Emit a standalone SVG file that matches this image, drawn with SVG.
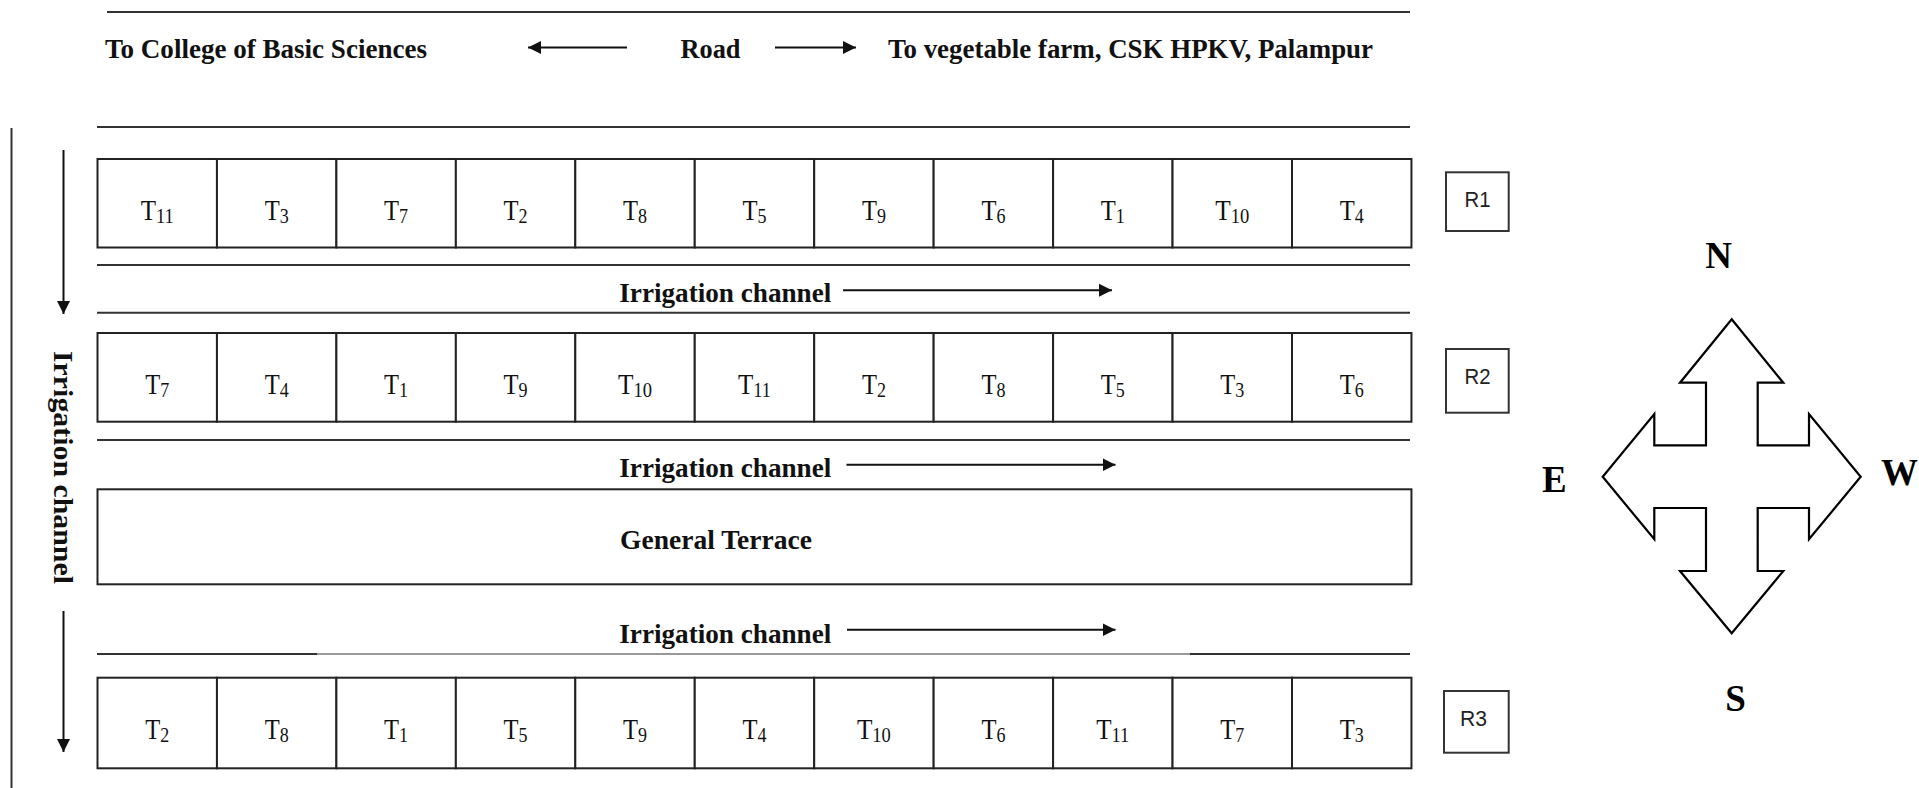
<svg xmlns="http://www.w3.org/2000/svg" width="1919" height="788" viewBox="0 0 1919 788">
<defs>
<marker id="ah" markerUnits="userSpaceOnUse" markerWidth="14" markerHeight="14" refX="13" refY="7" orient="auto"><path d="M0,0.5 L13,7 L0,13.5 Z" fill="#111"/></marker>
<style>
.ln{stroke:#333;stroke-width:2;fill:none}
.lg{stroke:#999;stroke-width:2;fill:none}
.cell{fill:#fff;stroke:#222;stroke-width:2}
.box{fill:#fff;stroke:#333;stroke-width:2}
.lbl{font-family:"Liberation Serif","Times New Roman",serif;font-weight:bold;font-size:28px;fill:#111}
.t{font-family:"Liberation Serif","Times New Roman",serif;font-size:30px;fill:#111}
.sub{font-size:22px}
.rl{font-family:"Liberation Sans",Arial,sans-serif;font-size:22px;fill:#222}
.cmp{font-family:"Liberation Serif","Times New Roman",serif;font-weight:bold;font-size:37px;fill:#000}
.arr{stroke:#111;stroke-width:2;fill:none;marker-end:url(#ah)}
.compass{fill:#fff;stroke:#000;stroke-width:2.2;stroke-linejoin:miter}
</style>
</defs>
<rect width="1919" height="788" fill="#fff"/>

<g id="lines">
<line class="ln" x1="107" y1="12" x2="1410" y2="12"/>
<line class="ln" x1="97" y1="127" x2="1410" y2="127"/>
<line class="ln" x1="97" y1="265" x2="1410" y2="265"/>
<line class="ln" x1="97" y1="312.7" x2="1410" y2="312.7"/>
<line class="ln" x1="97" y1="440" x2="1410" y2="440"/>
<line class="lg" x1="317" y1="654" x2="1190" y2="654"/>
<line class="ln" x1="97" y1="654" x2="317" y2="654"/>
<line class="ln" x1="1190" y1="654" x2="1410" y2="654"/>
<line class="ln" x1="11.5" y1="128" x2="11.5" y2="788"/>
</g>

<g id="texts">
<text class="lbl" x="105" y="58" textLength="322" lengthAdjust="spacingAndGlyphs">To College of Basic Sciences</text>
<text class="lbl" x="680.5" y="57.5" textLength="60" lengthAdjust="spacingAndGlyphs">Road</text>
<text class="lbl" x="888" y="57.5" textLength="485" lengthAdjust="spacingAndGlyphs">To vegetable farm, CSK HPKV, Palampur</text>
<text class="lbl" x="619.3" y="301.7" textLength="212" lengthAdjust="spacingAndGlyphs">Irrigation channel</text>
<text class="lbl" x="619.3" y="476.7" textLength="212" lengthAdjust="spacingAndGlyphs">Irrigation channel</text>
<text class="lbl" x="619.3" y="643" textLength="212" lengthAdjust="spacingAndGlyphs">Irrigation channel</text>
<text class="lbl" transform="translate(53.5,467.5) rotate(90)" text-anchor="middle" textLength="233" lengthAdjust="spacingAndGlyphs">Irrigation channel</text>
</g>

<g id="connectors">
<line class="arr" x1="627" y1="47.5" x2="528" y2="47.5"/>
<line class="arr" x1="775" y1="47.5" x2="856" y2="47.5"/>
<line class="arr" x1="843" y1="290.3" x2="1112" y2="290.3"/>
<line class="arr" x1="846.5" y1="464.7" x2="1115.5" y2="464.7"/>
<line class="arr" x1="847" y1="629.7" x2="1115.5" y2="629.7"/>
<line class="arr" x1="63.5" y1="150" x2="63.5" y2="314"/>
<line class="arr" x1="63.5" y1="611" x2="63.5" y2="752"/>
</g>

<g id="row1">
<g id="r1c1"><rect class="cell" x="97.5" y="159" width="119.45" height="88.5"/><text class="t" x="157.2" y="220" text-anchor="middle" textLength="33" lengthAdjust="spacingAndGlyphs">T<tspan class="sub" dy="3">11</tspan></text></g>
<g id="r1c2"><rect class="cell" x="216.95" y="159" width="119.45" height="88.5"/><text class="t" x="276.7" y="220" text-anchor="middle" textLength="24" lengthAdjust="spacingAndGlyphs">T<tspan class="sub" dy="3">3</tspan></text></g>
<g id="r1c3"><rect class="cell" x="336.4" y="159" width="119.45" height="88.5"/><text class="t" x="396.1" y="220" text-anchor="middle" textLength="24" lengthAdjust="spacingAndGlyphs">T<tspan class="sub" dy="3">7</tspan></text></g>
<g id="r1c4"><rect class="cell" x="455.85" y="159" width="119.45" height="88.5"/><text class="t" x="515.6" y="220" text-anchor="middle" textLength="24" lengthAdjust="spacingAndGlyphs">T<tspan class="sub" dy="3">2</tspan></text></g>
<g id="r1c5"><rect class="cell" x="575.3" y="159" width="119.45" height="88.5"/><text class="t" x="635" y="220" text-anchor="middle" textLength="24" lengthAdjust="spacingAndGlyphs">T<tspan class="sub" dy="3">8</tspan></text></g>
<g id="r1c6"><rect class="cell" x="694.75" y="159" width="119.45" height="88.5"/><text class="t" x="754.5" y="220" text-anchor="middle" textLength="24" lengthAdjust="spacingAndGlyphs">T<tspan class="sub" dy="3">5</tspan></text></g>
<g id="r1c7"><rect class="cell" x="814.2" y="159" width="119.45" height="88.5"/><text class="t" x="873.9" y="220" text-anchor="middle" textLength="24" lengthAdjust="spacingAndGlyphs">T<tspan class="sub" dy="3">9</tspan></text></g>
<g id="r1c8"><rect class="cell" x="933.65" y="159" width="119.45" height="88.5"/><text class="t" x="993.4" y="220" text-anchor="middle" textLength="24" lengthAdjust="spacingAndGlyphs">T<tspan class="sub" dy="3">6</tspan></text></g>
<g id="r1c9"><rect class="cell" x="1053.1" y="159" width="119.45" height="88.5"/><text class="t" x="1112.8" y="220" text-anchor="middle" textLength="24" lengthAdjust="spacingAndGlyphs">T<tspan class="sub" dy="3">1</tspan></text></g>
<g id="r1c10"><rect class="cell" x="1172.55" y="159" width="119.45" height="88.5"/><text class="t" x="1232.3" y="220" text-anchor="middle" textLength="34" lengthAdjust="spacingAndGlyphs">T<tspan class="sub" dy="3">10</tspan></text></g>
<g id="r1c11"><rect class="cell" x="1292" y="159" width="119.45" height="88.5"/><text class="t" x="1351.7" y="220" text-anchor="middle" textLength="24" lengthAdjust="spacingAndGlyphs">T<tspan class="sub" dy="3">4</tspan></text></g>
</g>

<g id="row2">
<g id="r2c1"><rect class="cell" x="97.5" y="333" width="119.45" height="88.7"/><text class="t" x="157.2" y="394" text-anchor="middle" textLength="24" lengthAdjust="spacingAndGlyphs">T<tspan class="sub" dy="3">7</tspan></text></g>
<g id="r2c2"><rect class="cell" x="216.95" y="333" width="119.45" height="88.7"/><text class="t" x="276.7" y="394" text-anchor="middle" textLength="24" lengthAdjust="spacingAndGlyphs">T<tspan class="sub" dy="3">4</tspan></text></g>
<g id="r2c3"><rect class="cell" x="336.4" y="333" width="119.45" height="88.7"/><text class="t" x="396.1" y="394" text-anchor="middle" textLength="24" lengthAdjust="spacingAndGlyphs">T<tspan class="sub" dy="3">1</tspan></text></g>
<g id="r2c4"><rect class="cell" x="455.85" y="333" width="119.45" height="88.7"/><text class="t" x="515.6" y="394" text-anchor="middle" textLength="24" lengthAdjust="spacingAndGlyphs">T<tspan class="sub" dy="3">9</tspan></text></g>
<g id="r2c5"><rect class="cell" x="575.3" y="333" width="119.45" height="88.7"/><text class="t" x="635" y="394" text-anchor="middle" textLength="34" lengthAdjust="spacingAndGlyphs">T<tspan class="sub" dy="3">10</tspan></text></g>
<g id="r2c6"><rect class="cell" x="694.75" y="333" width="119.45" height="88.7"/><text class="t" x="754.5" y="394" text-anchor="middle" textLength="33" lengthAdjust="spacingAndGlyphs">T<tspan class="sub" dy="3">11</tspan></text></g>
<g id="r2c7"><rect class="cell" x="814.2" y="333" width="119.45" height="88.7"/><text class="t" x="873.9" y="394" text-anchor="middle" textLength="24" lengthAdjust="spacingAndGlyphs">T<tspan class="sub" dy="3">2</tspan></text></g>
<g id="r2c8"><rect class="cell" x="933.65" y="333" width="119.45" height="88.7"/><text class="t" x="993.4" y="394" text-anchor="middle" textLength="24" lengthAdjust="spacingAndGlyphs">T<tspan class="sub" dy="3">8</tspan></text></g>
<g id="r2c9"><rect class="cell" x="1053.1" y="333" width="119.45" height="88.7"/><text class="t" x="1112.8" y="394" text-anchor="middle" textLength="24" lengthAdjust="spacingAndGlyphs">T<tspan class="sub" dy="3">5</tspan></text></g>
<g id="r2c10"><rect class="cell" x="1172.55" y="333" width="119.45" height="88.7"/><text class="t" x="1232.3" y="394" text-anchor="middle" textLength="24" lengthAdjust="spacingAndGlyphs">T<tspan class="sub" dy="3">3</tspan></text></g>
<g id="r2c11"><rect class="cell" x="1292" y="333" width="119.45" height="88.7"/><text class="t" x="1351.7" y="394" text-anchor="middle" textLength="24" lengthAdjust="spacingAndGlyphs">T<tspan class="sub" dy="3">6</tspan></text></g>
</g>

<g id="general-terrace">
<rect class="cell" x="97.5" y="489.3" width="1313.95" height="95"/>
<text class="lbl" x="620" y="549" textLength="192" lengthAdjust="spacingAndGlyphs">General Terrace</text>
</g>

<g id="row3">
<g id="r3c1"><rect class="cell" x="97.5" y="677.7" width="119.45" height="90.6"/><text class="t" x="157.2" y="739" text-anchor="middle" textLength="24" lengthAdjust="spacingAndGlyphs">T<tspan class="sub" dy="3">2</tspan></text></g>
<g id="r3c2"><rect class="cell" x="216.95" y="677.7" width="119.45" height="90.6"/><text class="t" x="276.7" y="739" text-anchor="middle" textLength="24" lengthAdjust="spacingAndGlyphs">T<tspan class="sub" dy="3">8</tspan></text></g>
<g id="r3c3"><rect class="cell" x="336.4" y="677.7" width="119.45" height="90.6"/><text class="t" x="396.1" y="739" text-anchor="middle" textLength="24" lengthAdjust="spacingAndGlyphs">T<tspan class="sub" dy="3">1</tspan></text></g>
<g id="r3c4"><rect class="cell" x="455.85" y="677.7" width="119.45" height="90.6"/><text class="t" x="515.6" y="739" text-anchor="middle" textLength="24" lengthAdjust="spacingAndGlyphs">T<tspan class="sub" dy="3">5</tspan></text></g>
<g id="r3c5"><rect class="cell" x="575.3" y="677.7" width="119.45" height="90.6"/><text class="t" x="635" y="739" text-anchor="middle" textLength="24" lengthAdjust="spacingAndGlyphs">T<tspan class="sub" dy="3">9</tspan></text></g>
<g id="r3c6"><rect class="cell" x="694.75" y="677.7" width="119.45" height="90.6"/><text class="t" x="754.5" y="739" text-anchor="middle" textLength="24" lengthAdjust="spacingAndGlyphs">T<tspan class="sub" dy="3">4</tspan></text></g>
<g id="r3c7"><rect class="cell" x="814.2" y="677.7" width="119.45" height="90.6"/><text class="t" x="873.9" y="739" text-anchor="middle" textLength="34" lengthAdjust="spacingAndGlyphs">T<tspan class="sub" dy="3">10</tspan></text></g>
<g id="r3c8"><rect class="cell" x="933.65" y="677.7" width="119.45" height="90.6"/><text class="t" x="993.4" y="739" text-anchor="middle" textLength="24" lengthAdjust="spacingAndGlyphs">T<tspan class="sub" dy="3">6</tspan></text></g>
<g id="r3c9"><rect class="cell" x="1053.1" y="677.7" width="119.45" height="90.6"/><text class="t" x="1112.8" y="739" text-anchor="middle" textLength="33" lengthAdjust="spacingAndGlyphs">T<tspan class="sub" dy="3">11</tspan></text></g>
<g id="r3c10"><rect class="cell" x="1172.55" y="677.7" width="119.45" height="90.6"/><text class="t" x="1232.3" y="739" text-anchor="middle" textLength="24" lengthAdjust="spacingAndGlyphs">T<tspan class="sub" dy="3">7</tspan></text></g>
<g id="r3c11"><rect class="cell" x="1292" y="677.7" width="119.45" height="90.6"/><text class="t" x="1351.7" y="739" text-anchor="middle" textLength="24" lengthAdjust="spacingAndGlyphs">T<tspan class="sub" dy="3">3</tspan></text></g>
</g>

<g id="R1"><rect class="box" x="1446" y="172.3" width="62.7" height="58.7"/><text class="rl" x="1477.5" y="207.3" text-anchor="middle" textLength="26" lengthAdjust="spacingAndGlyphs">R1</text></g>
<g id="R2"><rect class="box" x="1446" y="349" width="62.7" height="63.7"/><text class="rl" x="1477.5" y="384.3" text-anchor="middle" textLength="26" lengthAdjust="spacingAndGlyphs">R2</text></g>
<g id="R3"><rect class="box" x="1444" y="691" width="64.7" height="61.7"/><text class="rl" x="1473.5" y="725.7" text-anchor="middle" textLength="27" lengthAdjust="spacingAndGlyphs">R3</text></g>

<g id="compass">
<polygon class="compass" points="1731.7,319.3 1783.3,382.7 1757.7,382.7 1757.7,445.3 1809,445.3 1809,414 1860.7,476.7 1809,539.3 1809,508 1757.7,508 1757.7,571 1783.3,571 1731.7,633.3 1680,571 1706,571 1706,508 1654.3,508 1654.3,539.3 1602.7,476.7 1654.3,414 1654.3,445.3 1706,445.3 1706,382.7 1680,382.7"/>
<text class="cmp" x="1718.5" y="268.3" text-anchor="middle">N</text>
<text class="cmp" x="1554.3" y="491.7" text-anchor="middle">E</text>
<text class="cmp" x="1881" y="485">W</text>
<text class="cmp" x="1735.5" y="711" text-anchor="middle">S</text>
</g>
</svg>
